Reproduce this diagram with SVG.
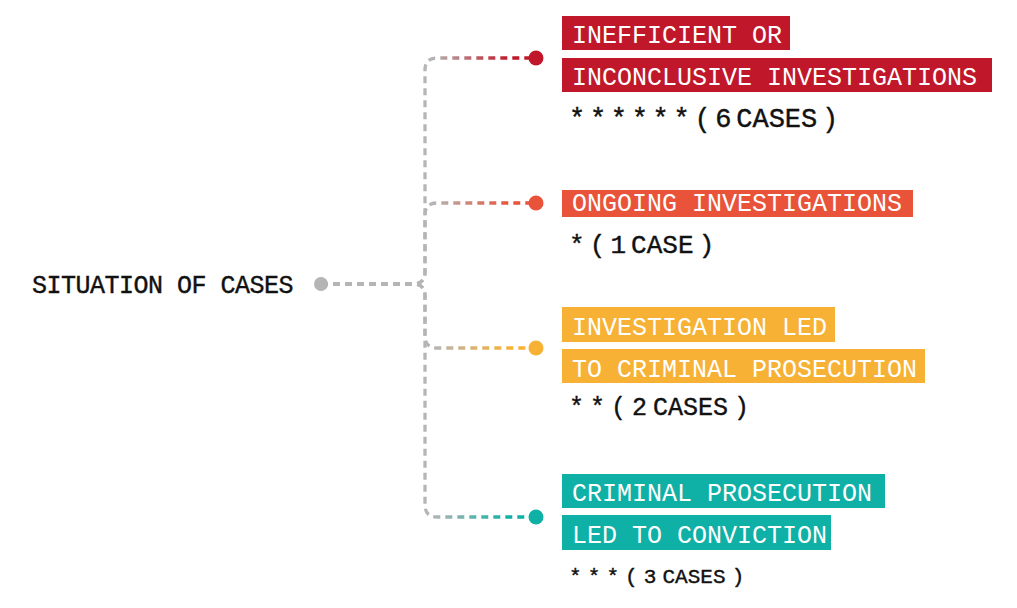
<svg xmlns="http://www.w3.org/2000/svg" width="1017" height="608" viewBox="0 0 1017 608">
<style>
.lbl{font-family:"Liberation Mono","Courier New",monospace;font-size:25px;fill:#fff}
.cnt{font-family:"Liberation Mono","Courier New",monospace;fill:#111;stroke:#111;stroke-width:0.4}
.root{font-family:"Liberation Mono","Courier New",monospace;font-size:25px;letter-spacing:-0.5px;fill:#111;stroke:#111;stroke-width:0.4}
.edge{fill:none;stroke-width:3.3;stroke-dasharray:7 5}
</style>
<defs>
<linearGradient id="gRed" gradientUnits="userSpaceOnUse" x1="432" y1="0" x2="510" y2="0"><stop offset="0" stop-color="#b5b5b5"/><stop offset="1" stop-color="#c0182a"/></linearGradient>
<linearGradient id="gOrange" gradientUnits="userSpaceOnUse" x1="432" y1="0" x2="510" y2="0"><stop offset="0" stop-color="#b5b5b5"/><stop offset="1" stop-color="#e8533a"/></linearGradient>
<linearGradient id="gYellow" gradientUnits="userSpaceOnUse" x1="432" y1="0" x2="510" y2="0"><stop offset="0" stop-color="#b5b5b5"/><stop offset="1" stop-color="#f7b135"/></linearGradient>
<linearGradient id="gTeal" gradientUnits="userSpaceOnUse" x1="432" y1="0" x2="510" y2="0"><stop offset="0" stop-color="#b5b5b5"/><stop offset="1" stop-color="#0fb0a6"/></linearGradient>
</defs>
<g id="connectors">
<path class="edge" stroke="url(#gRed)" d="M321,284 H413 Q425,284 425,272 V70 Q425,58 437,58 H536"/>
<path class="edge" stroke="url(#gOrange)" d="M321,284 H413 Q425,284 425,272 V215 Q425,203 437,203 H536"/>
<path class="edge" stroke="url(#gYellow)" d="M321,284 H413 Q425,284 425,296 V336 Q425,348 437,348 H536"/>
<path class="edge" stroke="url(#gTeal)" d="M321,284 H413 Q425,284 425,296 V505 Q425,517 437,517 H536"/>
</g>
<g id="root">
<circle cx="321" cy="284" r="7" fill="#b5b5b5"/>
<text class="root" x="32" y="293">SITUATION OF CASES</text>
</g>
<g id="node-inefficient">
<circle cx="536" cy="58" r="7.5" fill="#c0182a"/>
<rect x="562" y="16" width="228" height="34" fill="#c0182a"/>
<rect x="562" y="58" width="430" height="34" fill="#c0182a"/>
<text class="lbl" x="572" y="43">INEFFICIENT OR</text>
<text class="lbl" x="572" y="85">INCONCLUSIVE INVESTIGATIONS</text>
<text class="cnt" x="569" y="127" font-size="27" word-spacing="-11.5">* * * * * * ( 6 CASES )</text>
</g>
<g id="node-ongoing">
<circle cx="536" cy="203" r="7.5" fill="#e8533a"/>
<rect x="562" y="190" width="351" height="27" fill="#e8533a"/>
<text class="lbl" x="572" y="211">ONGOING INVESTIGATIONS</text>
<text class="cnt" x="569" y="253" font-size="26" word-spacing="-10.5">* ( 1 CASE )</text>
</g>
<g id="node-prosecution">
<circle cx="536" cy="348" r="7.5" fill="#f7b135"/>
<rect x="562" y="307" width="273" height="35" fill="#f7b135"/>
<rect x="562" y="349" width="363" height="34" fill="#f7b135"/>
<text class="lbl" x="572" y="335">INVESTIGATION LED</text>
<text class="lbl" x="572" y="377">TO CRIMINAL PROSECUTION</text>
<text class="cnt" x="569" y="415" font-size="25" word-spacing="-9">* * ( 2 CASES )</text>
</g>
<g id="node-conviction">
<circle cx="536" cy="517" r="7.5" fill="#0fb0a6"/>
<rect x="562" y="474" width="323" height="34" fill="#0fb0a6"/>
<rect x="562" y="515" width="269" height="35" fill="#0fb0a6"/>
<text class="lbl" x="572" y="501">CRIMINAL PROSECUTION</text>
<text class="lbl" x="572" y="543">LED TO CONVICTION</text>
<text class="cnt" x="569" y="583" font-size="21" word-spacing="-6.5">* * * ( 3 CASES )</text>
</g>
</svg>
